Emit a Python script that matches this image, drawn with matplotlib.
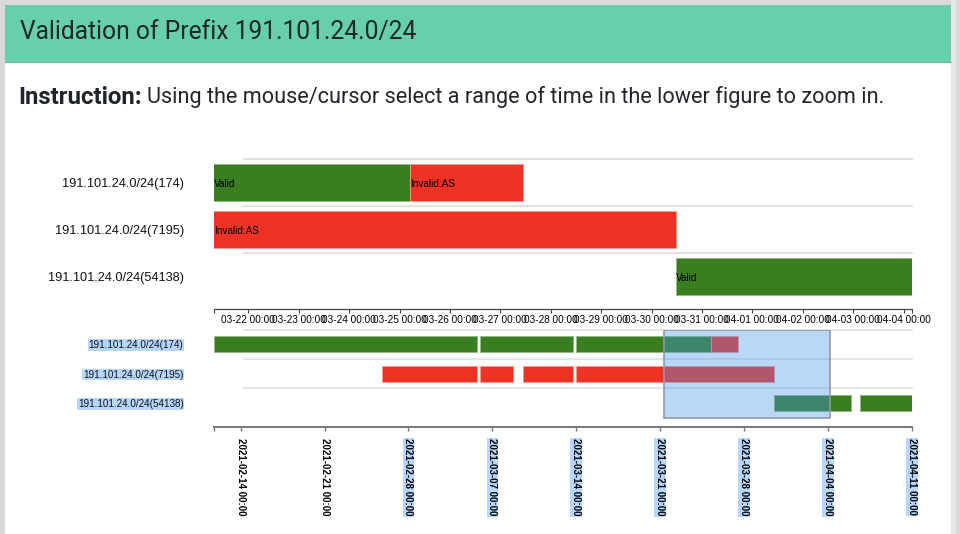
import datetime as dt
import matplotlib
matplotlib.use("Agg")
import matplotlib.pyplot as plt
import matplotlib.dates as mdates
from matplotlib.patches import Rectangle

# ---------------- data ----------------
title = "Validation of Prefix 191.101.24.0/24"
instr_bold = "Instruction:"
instr_rest = "Using the mouse/cursor select a range of time in the lower figure to zoom in."

rows = ["191.101.24.0/24(174)", "191.101.24.0/24(7195)", "191.101.24.0/24(54138)"]

seg_row = [0, 0, 0, 0, 1, 1, 1, 1, 2, 2]
seg_start = ["2021-02-11 18:40", "2021-03-06 00:00", "2021-03-13 23:20", "2021-03-25 05:00",
             "2021-02-25 18:00", "2021-03-06 00:00", "2021-03-09 12:40", "2021-03-13 23:20",
             "2021-03-30 11:30", "2021-04-06 16:30"]
seg_end = ["2021-03-05 17:20", "2021-03-13 17:20", "2021-03-25 05:00", "2021-03-27 11:00",
           "2021-03-05 17:20", "2021-03-08 18:00", "2021-03-13 17:20", "2021-03-30 11:30",
           "2021-04-05 22:00", "2021-04-11 00:00"]
seg_state = ["Valid", "Valid", "Valid", "Invalid:AS",
             "Invalid:AS", "Invalid:AS", "Invalid:AS", "Invalid:AS",
             "Valid", "Valid"]

brush = ["2021-03-21 07:40", "2021-04-04 04:00"]

upper_ticks = ["2021-03-%02d" % d for d in range(22, 32)] + ["2021-04-%02d" % d for d in range(1, 5)]
lower_ticks = ["2021-02-14", "2021-02-21", "2021-02-28", "2021-03-07", "2021-03-14",
               "2021-03-21", "2021-03-28", "2021-04-04", "2021-04-11"]
lower_tick_highlight = [False, False, True, True, True, True, True, True, True]

state_color = {"Valid": "#397f22", "Invalid:AS": "#ee3224"}
state_edge = {"Valid": "#8fbb80", "Invalid:AS": "#f59a90"}

# ---------------- helpers ----------------
def num(s):
    return mdates.date2num(dt.datetime.strptime(s, "%Y-%m-%d %H:%M") if " " in s
                           else dt.datetime.strptime(s, "%Y-%m-%d"))

W, H = 960, 534
fig = plt.figure(figsize=(W / 100, H / 100), dpi=100)

def px_axes(x0, y0, x1, y1):
    return fig.add_axes([x0 / W, 1 - y1 / H, (x1 - x0) / W, (y1 - y0) / H])

HELV = ["Liberation Sans", "DejaVu Sans"]
UIF = ["Roboto", "DejaVu Sans"]
TXT = "#212529"

# ---------------- page background ----------------
bg = fig.add_axes([0, 0, 1, 1])
bg.set_xlim(0, W)
bg.set_ylim(H, 0)
bg.axis("off")
bg.add_patch(Rectangle((0, 0), W, H, facecolor="#d9d9d9", edgecolor="none"))
bg.add_patch(Rectangle((951, 0), 5, H, facecolor="#e6e6e6", edgecolor="none"))
bg.add_patch(Rectangle((5, 5), 946, H, facecolor="white", edgecolor="none"))
bg.add_patch(Rectangle((5, 5), 946, 57, facecolor="#67d0aa", edgecolor="none"))
bg.plot([5, 951], [62, 62], color="#5fc49f", lw=0.8)

fig.canvas.draw()
renderer = fig.canvas.get_renderer()

def fit_text(x, y, s, target_w, size, **kw):
    t = bg.text(x, y, s, fontsize=size, **kw)
    w = t.get_window_extent(renderer).width
    t.set_fontsize(size * target_w / w)
    return t

fit_text(20, 32.5, title, 397, 17, family=UIF, color=TXT, va="center", ha="left")
tb = fit_text(18, 97, instr_bold, 142 - 18, 14.5, family=UIF, fontweight="bold", color=TXT,
              va="center", ha="left")
fit_text(147, 97, instr_rest, 880 - 147, 14.5, family=UIF, color=TXT, va="center", ha="left")

# ---------------- upper (zoomed) chart ----------------
b0, b1 = num(brush[0]), num(brush[1])
ax = px_axes(214, 159, 912, 309)
ax.set_xlim(b0, b1)
ax.set_ylim(2.69, -0.5)
for sp in ["top", "left", "right"]:
    ax.spines[sp].set_visible(False)
ax.spines["bottom"].set_color("#444444")
ax.spines["bottom"].set_linewidth(0.9)
for yg in [-0.5, 0.5, 1.5]:
    ax.plot([0.043, 1], [yg, yg], transform=ax.get_yaxis_transform(), color="#e2e2e2",
            lw=1.4, zorder=0, clip_on=False)
for r, s, e, st in zip(seg_row, seg_start, seg_end, seg_state):
    xs, xe = num(s), num(e)
    ax.barh(r, xe - xs, left=xs, height=0.79, color=state_color[st],
            edgecolor=state_edge[st], linewidth=0.6, zorder=2)
    if xe > b0 and xs < b1:
        ax.text(max(xs, b0), r + 0.03, st, fontsize=7.2, family=HELV, color="black",
                va="center", ha="left", zorder=3)
ax.set_yticks(range(len(rows)))
ax.set_yticklabels(rows, fontsize=9.2, family=HELV, color="#111111")
ax.tick_params(axis="y", length=0, pad=21.6)
ax.set_xticks([num(t) for t in upper_ticks])
ax.xaxis.set_major_formatter(mdates.DateFormatter("%m-%d %H:%M"))
ax.set_xticks([b0, b1], minor=True)
ax.tick_params(axis="x", which="both", direction="out", length=3, width=0.8,
               color="#444444", pad=1.5, labelsize=7.2)
for lab in ax.get_xticklabels():
    lab.set_family(HELV)

# ---------------- lower (overview) chart ----------------
d0 = min(num(s) for s in seg_start)
d1 = max(num(e) for e in seg_end)
ax2 = px_axes(214, 329.5, 912, 427.3)
ax2.set_xlim(d0, d1)
ax2.set_ylim(2.83, -0.5)
for sp in ["top", "left", "right"]:
    ax2.spines[sp].set_visible(False)
ax2.spines["bottom"].set_color("#777777")
ax2.spines["bottom"].set_linewidth(1.4)
for yg in [-0.5, 0.5, 1.5]:
    ax2.plot([0.043, 1], [yg, yg], transform=ax2.get_yaxis_transform(), color="#e2e2e2",
             lw=1.2, zorder=0, clip_on=False)
for r, s, e, st in zip(seg_row, seg_start, seg_end, seg_state):
    xs, xe = num(s), num(e)
    ax2.barh(r, xe - xs, left=xs, height=0.545, color=state_color[st],
             edgecolor=state_edge[st], linewidth=0.6, zorder=2)
ax2.add_patch(Rectangle((b0, -0.47), b1 - b0, 2.98, facecolor=(70 / 255, 148 / 255, 237 / 255),
                        alpha=0.37, edgecolor="none", zorder=4))
ax2.add_patch(Rectangle((b0, -0.47), b1 - b0, 2.98, facecolor="none", edgecolor="#8f9aa6",
                        linewidth=1.2, zorder=5))
ax2.set_yticks(range(len(rows)))
ax2.set_yticklabels(rows, fontsize=7.1, family=HELV, color="#111111")
for lab in ax2.get_yticklabels():
    lab.set_bbox(dict(facecolor="#b6d6fb", edgecolor="none", pad=0.6))
ax2.tick_params(axis="y", length=0, pad=22)
ax2.set_xticks([num(t) for t in lower_ticks])
ax2.xaxis.set_major_formatter(mdates.DateFormatter("%Y-%m-%d %H:%M"))
ax2.set_xticks([d0, d1], minor=True)
ax2.tick_params(axis="x", which="both", direction="out", length=3, width=1.0,
                color="#777777", pad=5, labelsize=7.0)
for lab, hl in zip(ax2.get_xticklabels(), lower_tick_highlight):
    lab.set_family(HELV)
    lab.set_rotation(270)
    lab.set_va("top")
    lab.set_ha("center")
    lab.set_fontweight("bold")
    if hl:
        lab.set_bbox(dict(facecolor="#b6d6fb", edgecolor="none", pad=0.6))

fig.savefig("out.png", dpi=100)
